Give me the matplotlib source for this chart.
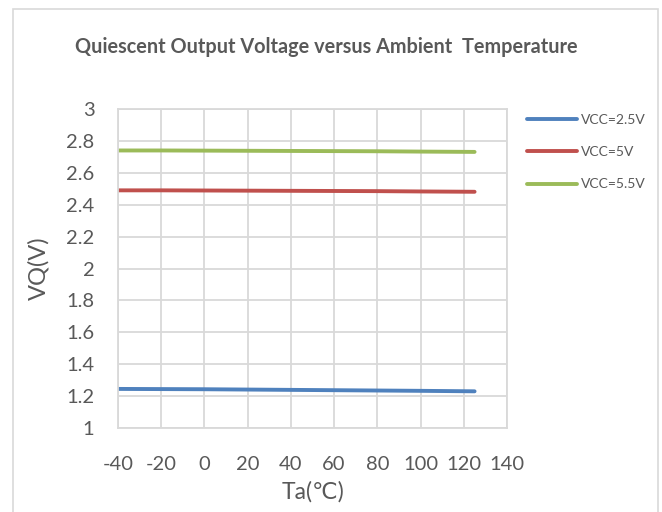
import matplotlib
matplotlib.use("Agg")
import matplotlib.pyplot as plt
from matplotlib.patches import Rectangle

# data
temps = [-40, -20, 0, 20, 40, 60, 80, 100, 125]
vq_25 = [1.245, 1.244, 1.243, 1.241, 1.239, 1.237, 1.235, 1.233, 1.230]
vq_50 = [2.490, 2.490, 2.489, 2.488, 2.487, 2.486, 2.485, 2.483, 2.481]
vq_55 = [2.740, 2.740, 2.739, 2.738, 2.737, 2.736, 2.735, 2.733, 2.731]
labels = ["VCC=2.5V", "VCC=5V", "VCC=5.5V"]
colors = ["#4F81BD", "#C0504D", "#9BBB59"]
xticks = [-40, -20, 0, 20, 40, 60, 80, 100, 120, 140]
yticks = [1, 1.2, 1.4, 1.6, 1.8, 2, 2.2, 2.4, 2.6, 2.8, 3]

plt.rcParams['font.family'] = ['Lato', 'DejaVu Sans']
plt.rcParams['axes.unicode_minus'] = False
txt = "#595959"
grid = "#d9d9d9"

fig = plt.figure(figsize=(6.62, 5.12), dpi=100)

# chart frame
fig.patches.append(Rectangle((13 / 662, -0.02), 645 / 662, 1 - 9 / 512 + 0.02,
                             transform=fig.transFigure, fill=False,
                             edgecolor=grid, linewidth=1.2))

ax = fig.add_axes([118 / 662, 1 - 428 / 512, 389 / 662, 319 / 512])
for y, lab, c in zip([vq_25, vq_50, vq_55], labels, colors):
    ax.plot(temps, y, color=c, linewidth=2.8, label=lab, solid_capstyle="round")

ax.set_xlim(-40, 140)
ax.set_ylim(1, 3)
ax.set_xticks(xticks)
ax.set_yticks(yticks)
ax.set_yticklabels([f"{v:g}" for v in yticks])
ax.grid(True, color=grid, linewidth=1.3)
ax.set_axisbelow(True)
for s in ax.spines.values():
    s.set_color(grid)
    s.set_linewidth(1.3)
ax.tick_params(length=0, colors=txt, labelsize=14.5)
ax.tick_params(axis="y", pad=17)
ax.tick_params(axis="x", pad=20)

ax.set_xlabel("Ta(℃)", fontsize=16.5, color=txt, labelpad=6)
ax.set_ylabel("VQ(V)", fontsize=17, color=txt, labelpad=12)

fig.text(326 / 662, 1 - 47 / 512, "Quiescent Output Voltage versus Ambient  Temperature",
         ha="center", va="center", fontsize=14.3, fontweight="bold", color=txt)

leg = ax.legend(loc="upper left", bbox_to_anchor=(1.03, 1.01), frameon=False,
                fontsize=10, handlelength=3.6, handletextpad=0.3,
                labelspacing=1.45, borderaxespad=0.2)
for t in leg.get_texts():
    t.set_color(txt)

fig.savefig("out.png", dpi=100)
